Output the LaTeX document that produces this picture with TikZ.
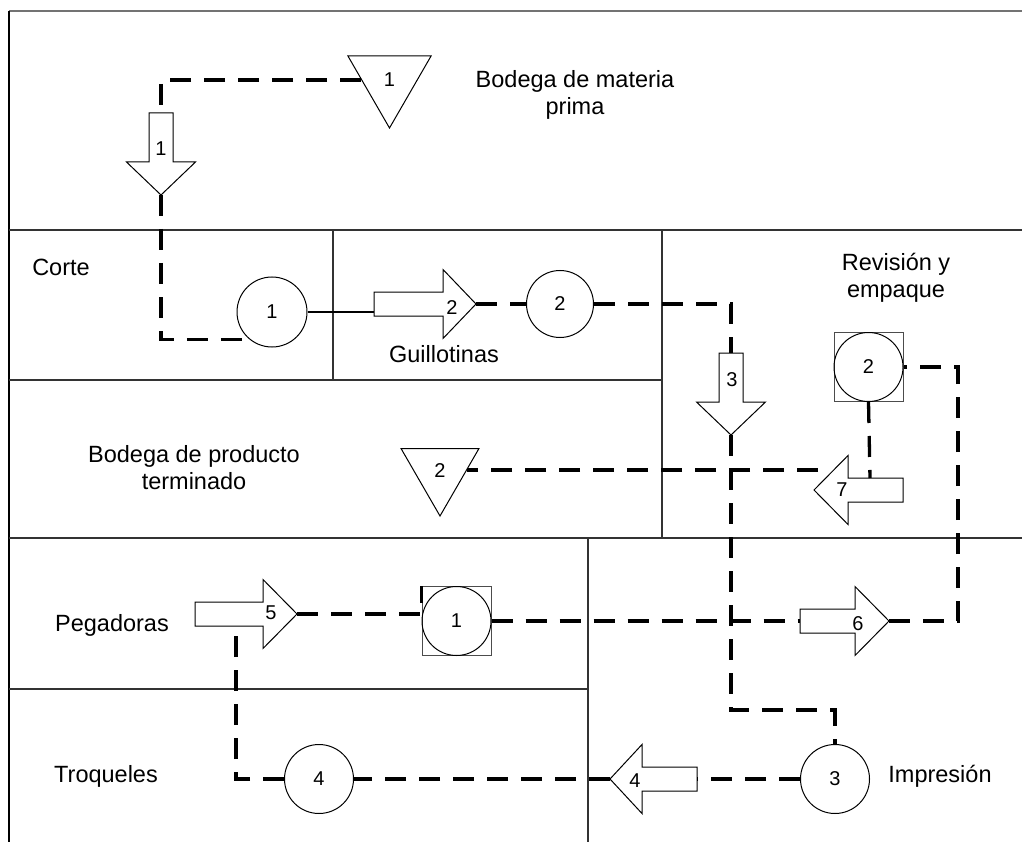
\documentclass[tikz,border=0pt]{standalone}
\usepackage{fontspec}
\setmainfont{Liberation Sans}
\usetikzlibrary{shapes.geometric}

\tikzset{
  frame/.style={line width=1.1pt, draw=black!80},
  outer/.style={line width=1.4pt, draw=black},
  topline/.style={line width=1.4pt, draw=black!55},
  flow/.style={line width=3.3pt, dash pattern=on 21pt off 13pt},
  link/.style={line width=1.3pt},
  station/.style={circle, draw, line width=1pt, minimum size=69pt, inner sep=0pt,
    font=\fontsize{20}{20}\selectfont},
  sqbox/.style={rectangle, draw=black!70, line width=1pt, minimum size=69pt, inner sep=0pt},
  store/.style={regular polygon, regular polygon sides=3, shape border rotate=180,
    draw, line width=1pt, inner sep=0pt, font=\fontsize{20}{20}\selectfont},
  num/.style={font=\fontsize{20}{20}\selectfont, inner sep=0pt},
  area/.style={font=\fontsize{23.5}{27}\selectfont, align=center, inner sep=0pt},
  arrowline/.style={draw, line width=1pt, fill=white},
  pics/flowarrow/.style 2 args={code={
    \draw[arrowline] (0,0) -- (-#2,34.5) -- (-#2,12) -- (-#1,12) -- (-#1,-12)
      -- (-#2,-12) -- (-#2,-34.5) -- cycle;
    \coordinate (-tip) at (0,0);
    \coordinate (-tail) at (-#1,0);
  }}
}

\begin{document}
\begin{tikzpicture}[x=1pt, y=-1pt]
\useasboundingbox (0,0) rectangle (1022,842);

% area borders
\draw[topline] (9,11) -- (1022,11);
\draw[outer] (9,11) -- (9,842);
\draw[frame] (9,230) -- (1022,230);
\draw[frame] (333,230) -- (333,380);
\draw[frame] (9,380) -- (662,380);
\draw[frame] (662,230) -- (662,538);
\draw[frame] (9,538) -- (1022,538);
\draw[frame] (588,538) -- (588,842);
\draw[frame] (9,689) -- (588,689);

% area names
\node[area] (bmp) at (575,95) {Bodega de materia\\prima};
\node[area] (corte) at (61,267) {Corte};
\node[area] (guill) at (444,354) {Guillotinas};
\node[area] (rev) at (896,278) {Revisión y\\empaque};
\node[area] (bpt) at (194,468) {Bodega de producto\\terminado};
\node[area] (peg) at (112,625) {Pegadoras};
\node[area] (troq) at (106,776) {Troqueles};
\node[area] (impr) at (940,776) {Impresión};

% storage triangles
\node[store, minimum size=96pt] (t1) at (389.5,80) {1};
\node[store, minimum size=90pt] (t2) at (440,471) {2};

% operations
\node[station, minimum size=70pt] (c1) at (272,312) {1};
\node[station, minimum size=67pt] (c2) at (560,304) {2};
\node[station] (c3) at (835,779) {3};
\node[station] (c4) at (319,779) {4};

% combined operation and inspection
\node[sqbox] (s1) at (456.5,621) {};
\node[station] (k1) at (s1.center) {1};
\node[sqbox] (s2) at (868.5,367) {};
\node[station] (k2) at (s2.center) {2};

% transport arrows
\pic[rotate=-90] (a1) at (161,195) {flowarrow={82}{33}};
\pic (a2) at (476,304) {flowarrow={102}{33}};
\pic[rotate=-90] (a3) at (731,435) {flowarrow={82}{33}};
\pic[rotate=180] (a4) at (610,779) {flowarrow={87}{32}};
\pic (a5) at (297,614) {flowarrow={102}{34}};
\pic (a6) at (889,621) {flowarrow={89}{34}};
\pic[rotate=180] (a7) at (814,490) {flowarrow={89}{34}};

\node[num] (n1) at (161,149) {1};
\node[num] (n2) at (452,308) {2};
\node[num] (n3) at (732,380) {3};
\node[num] (n4) at (635,781) {4};
\node[num] (n5) at (271,613) {5};
\node[num] (n6) at (858,624) {6};
\node[num] (n7) at (842,490) {7};

% bend points of the flow
\coordinate (bend3) at (835,710);
\coordinate (bend6) at (958,367);
\coordinate (a5foot) at (236,626);
\coordinate (a7top) at (870,478);
\coordinate (a7hook) at (818,470);

% material flow
\draw[flow] (t1.west) -| (a1-tail);
\draw[flow] (a1-tip) |- (c1.230);
\draw[link] (c1.east) -- (c1.east -| a2-tail);
\draw[flow] (a2-tip) -- (c2.west);
\draw[flow] (c2.east) -| (a3-tail);
\draw[flow] (a3-tip) |- (bend3) -- (c3.north);
\draw[flow] (c3.west) -- (a4-tail);
\draw[flow] (a4-tip) -- (c4.east);
\draw[flow] (c4.west) -| (a5foot);
\draw[flow] (a5-tip) -| (s1.north west);
\draw[flow] (k1.east) -- (a6-tail);
\draw[flow] (a6-tip) -| (bend6) -- (k2.east);
\draw[flow] (k2.south) -- (a7top);
\draw[flow] (a7hook) -- (a7hook -| t2.east);
\end{tikzpicture}
\end{document}
